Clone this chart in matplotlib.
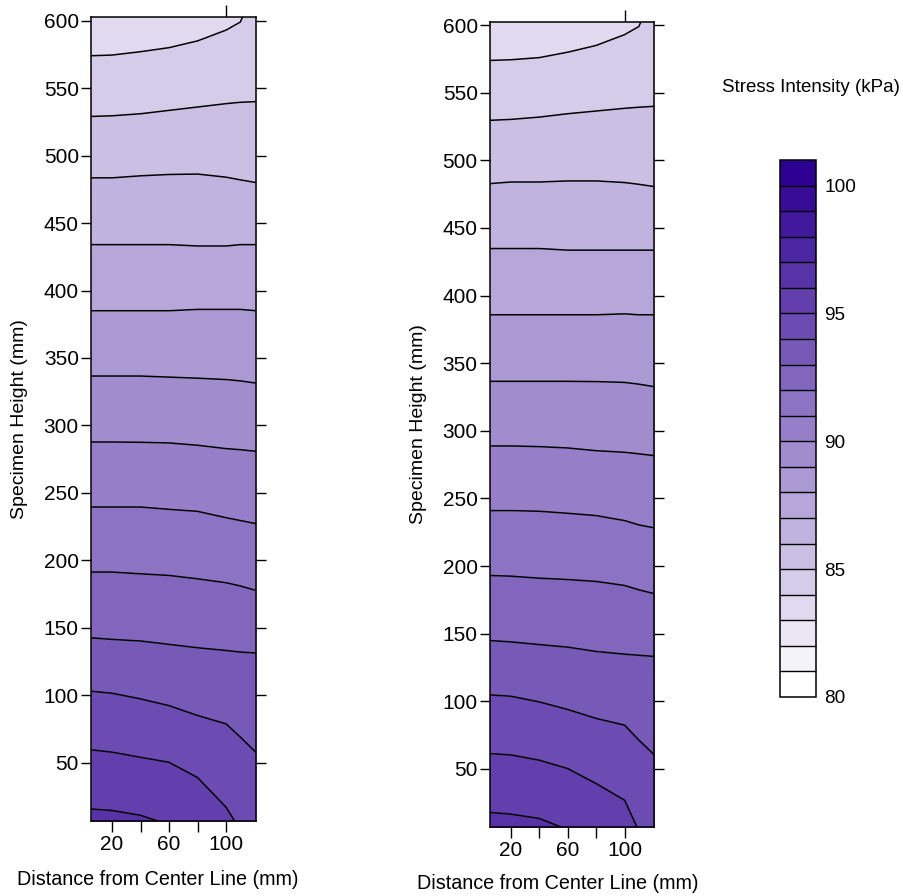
"""Stress intensity contour panels with a stepped colour bar."""

import matplotlib

matplotlib.use("Agg")
import matplotlib.pyplot as plt
import numpy as np
from matplotlib.colors import BoundaryNorm, LinearSegmentedColormap, ListedColormap
from matplotlib.cm import ScalarMappable

plt.rcParams["font.family"] = ["Liberation Sans", "DejaVu Sans"]

# distance from center line (mm) at which the contour heights were read
distance_mm = [5, 20, 40, 60, 80, 100, 110, 121]

# contour levels (kPa) and their heights (mm) along distance_mm
contour_levels = [84, 85, 86, 87, 88, 89, 90, 91, 92, 93, 94, 95, 96]

left_heights = [
    [574, 574.5, 577, 580, 585, 593, 599, 625],
    [529, 529.5, 531, 533.5, 536, 538.5, 539.5, 540],
    [483.5, 483.5, 485, 486, 486.3, 484, 482, 480],
    [434, 434, 434, 434, 433, 433, 434, 434],
    [385, 385, 385, 385, 386, 386, 386, 385],
    [336.6, 336.6, 336.6, 335.8, 335, 334, 333, 331.4],
    [287.7, 287.7, 287.5, 287, 285.3, 282.8, 282, 280.8],
    [239.5, 239.5, 239.5, 237.8, 236.3, 231.6, 229.5, 227.2],
    [191.3, 191.3, 190, 188.8, 186.3, 183.4, 181, 177.7],
    [142.6, 141.4, 140.2, 137.7, 135.2, 133.2, 132, 131.3],
    [103, 101.5, 97.3, 92.3, 85, 78.8, 69, 57.7],
    [59.6, 57.8, 54, 50.3, 39, 17, 0, -25],
    [15.7, 14.6, 11, 4, -12, -30, -40, -50],
]

right_heights = [
    [573.9, 574.4, 576, 580, 585, 593, 599, 625],
    [529.6, 530.3, 532, 534.5, 536.5, 538.5, 539.3, 540],
    [482.8, 484, 484, 484.8, 484.8, 483.6, 482.3, 480.6],
    [434.8, 434.8, 434.8, 433.6, 433.6, 433.6, 433.6, 433.6],
    [385.8, 385.8, 385.8, 385.8, 385.8, 386.5, 385.8, 385.8],
    [336.6, 336.6, 336.6, 336.6, 336.4, 335.8, 334.5, 332.6],
    [288.8, 288.8, 288.3, 287.3, 285.3, 284.1, 283, 281.6],
    [241, 241, 240.5, 239, 237.3, 233.6, 230.4, 228.2],
    [193, 192.5, 191, 190, 188.6, 185.6, 182.4, 179.5],
    [144.9, 143.9, 141.9, 140, 136.8, 134.8, 134, 133.1],
    [104.7, 103.7, 99.5, 93.9, 87.3, 82.3, 71.3, 60.2],
    [61.3, 60.3, 56.4, 50.2, 39.1, 26.8, 4, -20],
    [17.8, 16.5, 13.3, 5, -10, -30, -40, -50],
]

# colour bar: 1 kPa steps from 80 to 101
bar_bounds = list(range(80, 102))
bar_ticks = [80, 85, 90, 95, 100]

x_ticks = [20, 40, 60, 80, 100]
x_tick_labels = ["20", "", "60", "", "100"]
y_ticks = [50, 100, 150, 200, 250, 300, 350, 400, 450, 500, 550, 600]

XLIM = (5, 121)
YLIM = (6.8, 602.5)

base = LinearSegmentedColormap.from_list("stress", ["#ffffff", "#2e0092"])
n_bins = len(bar_bounds) - 1
band_colors = [base(i / (n_bins - 1)) for i in range(n_bins)]
cmap = ListedColormap(band_colors)
norm = BoundaryNorm(bar_bounds, cmap.N)


def _panel(ax, heights, label_x, label_y):
    x = np.array(distance_mm, dtype=float)
    edges = [np.full(len(x), YLIM[1] + 50)] + [np.array(h, dtype=float) for h in heights] + [np.full(len(x), YLIM[0] - 100)]
    first_band = contour_levels[0] - 1
    for j in range(len(edges) - 1):
        color = band_colors[first_band + j - bar_bounds[0]]
        ax.fill_between(x, edges[j + 1], edges[j], color=color, lw=0)
    for h in heights:
        ax.plot(x, h, color="black", lw=1.1)

    ax.set_xlim(*XLIM)
    ax.set_ylim(*YLIM)
    ax.set_xticks(x_ticks)
    ax.set_xticklabels(x_tick_labels)
    ax.set_yticks(y_ticks)
    ax.tick_params(axis="both", direction="out", length=8, width=1.0, labelsize=15, pad=1, colors="black")
    ax.tick_params(axis="y", right=True, labelright=False, length=7.5)
    ax.tick_params(axis="x", pad=2)
    for spine in ax.spines.values():
        spine.set_linewidth(1.1)

    top = ax.secondary_xaxis("top")
    top.set_xticks([100])
    top.tick_params(direction="out", length=8.5, width=1.0, labeltop=False)
    top.spines["top"].set_visible(False)

    ax.set_xlabel("Distance from Center Line (mm)", fontsize=14.2, va="center")
    ax.xaxis.set_label_coords(label_x, label_y)
    ax.set_ylabel("Specimen Height (mm)", fontsize=14, va="center")
    ax.yaxis.set_label_coords(-0.428, 0.5)


fig = plt.figure(figsize=(9.04, 8.96), dpi=100)

ax_left = fig.add_axes([0.1003, 0.0837, 0.1829, 0.897])
_panel(ax_left, left_heights, 0.407, -0.0734)

ax_right = fig.add_axes([0.5415, 0.0767, 0.1825, 0.899])
_panel(ax_right, right_heights, 0.415, -0.0704)

cax = fig.add_axes([0.8628, 0.2221, 0.0398, 0.5993])
cb = fig.colorbar(ScalarMappable(norm=norm, cmap=cmap), cax=cax, drawedges=True, ticks=bar_ticks)
cb.outline.set_linewidth(1.1)
cb.dividers.set_linewidth(1.0)
cb.dividers.set_color("black")
cax.minorticks_off()
cax.tick_params(which="both", length=0, pad=6, labelsize=13.7)

fig.text(0.8966, 0.9029, "Stress Intensity (kPa)", fontsize=13.5, ha="center", va="center")

fig.savefig("out.png", dpi=100)
plt.close(fig)
